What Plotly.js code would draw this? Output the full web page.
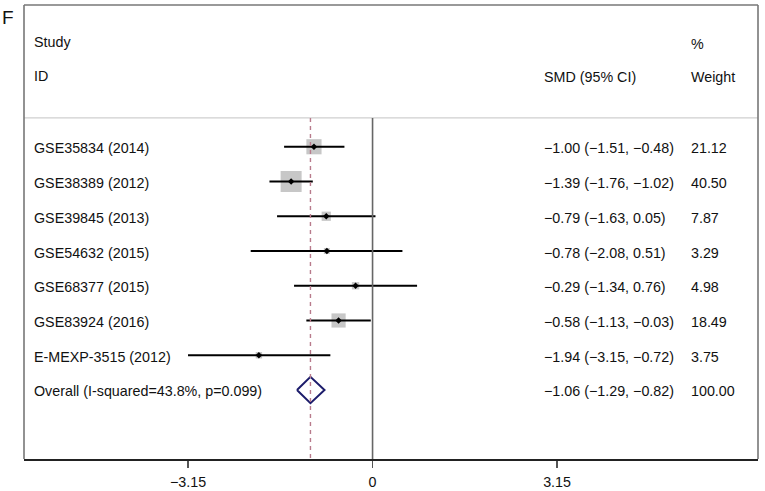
<!DOCTYPE html>
<html>
<head>
<meta charset="utf-8">
<script src="https://cdn.plot.ly/plotly-3.0.1.min.js"></script>
<style>html,body{margin:0;padding:0;background:#fff}#chart{width:765px;height:491px}</style>
</head>
<body>
<div id="chart"></div>
<script>
// ---- data ----
var studies = ["GSE35834 (2014)", "GSE38389 (2012)", "GSE39845 (2013)", "GSE54632 (2015)",
               "GSE68377 (2015)", "GSE83924 (2016)", "E-MEXP-3515 (2012)"];
var smd     = [-1.00, -1.39, -0.79, -0.78, -0.29, -0.58, -1.94];
var ciLow   = [-1.51, -1.76, -1.63, -2.08, -1.34, -1.13, -3.15];
var ciHigh  = [-0.48, -1.02,  0.05,  0.51,  0.76, -0.03, -0.72];
var weights = [21.12, 40.50, 7.87, 3.29, 4.98, 18.49, 3.75];
var overallLabel  = "Overall (I-squared=43.8%, p=0.099)";
var overallSMD    = -1.06;
var overallLow    = -1.29;
var overallHigh   = -0.82;
var overallWeight = 100.00;
var tickVals   = [-3.15, 0, 3.15];
var tickLabels = ["\u22123.15", "0", "3.15"];

// ---- helpers ----
function f2(v){ var s = Math.abs(v).toFixed(2); return (v < 0 ? "\u2212" : "") + s; }
var rows = studies.map(function(_, i){ return i + 1; });
var overallRow = studies.length + 1;
var maxW = Math.max.apply(null, weights);
var boxSizes = weights.map(function(w){ return 21 * Math.sqrt(w / maxW); });

var FONT = "Liberation Sans, Arial, Helvetica, sans-serif";
var TXT = {family: FONT, size: 14.3, color: "#111"};

var traces = [];
// weight boxes
traces.push({
  type: "scatter", mode: "markers", x: smd, y: rows, hoverinfo: "skip",
  marker: {symbol: "square", size: boxSizes, color: "#afafaf", line: {width: 0}}
});
// CI lines + point estimate
traces.push({
  type: "scatter", mode: "markers", x: smd, y: rows, hoverinfo: "skip",
  marker: {symbol: "diamond", size: 5, color: "#000"},
  error_x: {type: "data", symmetric: false,
            array: smd.map(function(v, i){ return ciHigh[i] - v; }),
            arrayminus: smd.map(function(v, i){ return v - ciLow[i]; }),
            thickness: 1.8, width: 0, color: "#000"}
});
// overall diamond
var dh = 0.38;
traces.push({
  type: "scatter", mode: "lines", hoverinfo: "skip",
  x: [overallLow, overallSMD, overallHigh, overallSMD, overallLow],
  y: [overallRow, overallRow - dh, overallRow, overallRow + dh, overallRow],
  line: {color: "#1c1c6b", width: 2}
});

var ann = [];
function addText(x, y, t, xref){
  ann.push({x: x, y: y, xref: xref || "x", yref: "y", text: t, showarrow: false,
            xanchor: "left", yanchor: "middle", font: TXT});
}
var xStudy = -5.82, xCI = 2.90, xW = 5.40;
addText(xStudy, -2.0, "Study");
addText(xStudy, -1.04, "ID");
addText(xCI, -1.02, "SMD (95% CI)");
addText(xW, -1.96, "%");
addText(xW, -1.02, "Weight");
studies.forEach(function(s, i){
  addText(xStudy, rows[i] + 0.05, s);
  addText(xCI, rows[i] + 0.05, f2(smd[i]) + " (" + f2(ciLow[i]) + ", " + f2(ciHigh[i]) + ")");
  addText(xW, rows[i] + 0.05, weights[i].toFixed(2));
});
addText(xStudy, overallRow + 0.03, overallLabel);
addText(xCI, overallRow + 0.03, f2(overallSMD) + " (" + f2(overallLow) + ", " + f2(overallHigh) + ")");
addText(xW, overallRow + 0.03, overallWeight.toFixed(2));
ann.push({xref: "paper", yref: "paper", x: -0.033, y: 0.972, text: "F", showarrow: false,
          xanchor: "left", yanchor: "middle", font: {family: FONT, size: 19, color: "#111"}});

var sepY = 0.17, yBottom = 9.986, yTop = -3.079;
var shapes = [
  // separator under header
  {type: "line", xref: "paper", yref: "y", x0: 0, x1: 1, y0: sepY, y1: sepY,
   line: {color: "#cfcfcf", width: 1.2}},
  // no-effect line
  {type: "line", xref: "x", yref: "y", x0: 0, x1: 0, y0: sepY, y1: yBottom,
   line: {color: "#666", width: 1.6}},
  // overall estimate dashed line
  {type: "line", xref: "x", yref: "y", x0: overallSMD, x1: overallSMD, y0: sepY, y1: yBottom,
   line: {color: "#b87b8c", width: 1.4, dash: "4px,4px"}},
  // frame
  {type: "line", xref: "paper", yref: "paper", x0: 0, x1: 0, y0: 0, y1: 1, line: {color: "#777", width: 1.6}},
  {type: "line", xref: "paper", yref: "paper", x0: 0, x1: 1, y0: 1, y1: 1, line: {color: "#777", width: 1.6}},
  {type: "line", xref: "paper", yref: "paper", x0: 1, x1: 1, y0: 0, y1: 1, line: {color: "#777", width: 1.6}}
];

var layout = {
  width: 765, height: 491,
  margin: {l: 24, r: 7, t: 5, b: 32},
  paper_bgcolor: "#fff", plot_bgcolor: "#fff",
  showlegend: false,
  font: TXT,
  xaxis: {range: [-5.95, 6.58], showgrid: false, zeroline: false,
          showline: true, linecolor: "#222", linewidth: 2,
          ticks: "outside", ticklen: 7, tickwidth: 1.3, tickcolor: "#555",
          tickvals: tickVals, ticktext: tickLabels, ticklabelstandoff: 2,
          tickfont: {family: FONT, size: 14.3, color: "#111"}, fixedrange: true},
  yaxis: {range: [yBottom, yTop], showgrid: false, zeroline: false, showline: false,
          showticklabels: false, ticks: "", fixedrange: true},
  shapes: shapes,
  annotations: ann
};

Plotly.newPlot("chart", traces, layout, {displayModeBar: false, staticPlot: true});
</script>
</body>
</html>
